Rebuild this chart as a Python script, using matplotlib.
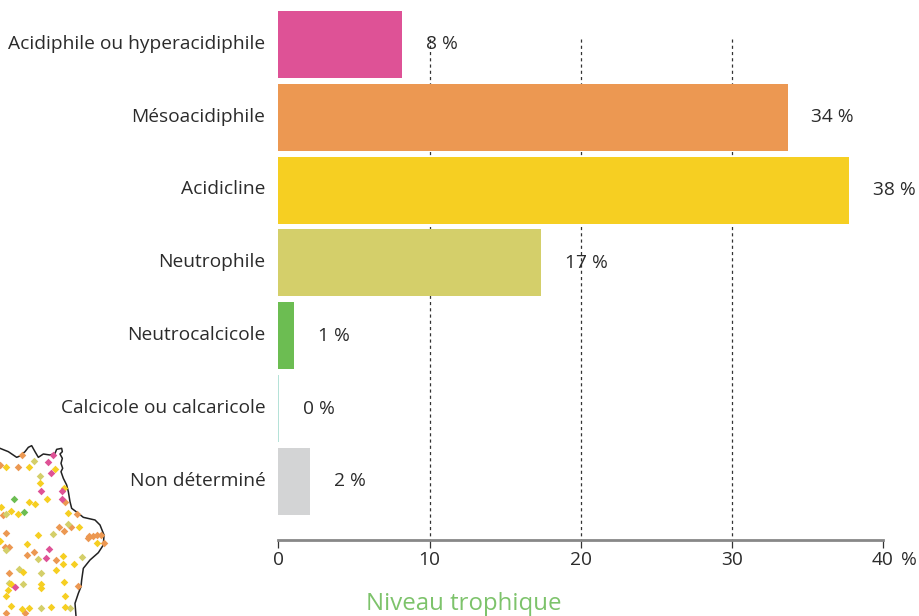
import matplotlib
matplotlib.use('Agg')
import matplotlib.pyplot as plt
from matplotlib.transforms import ScaledTranslation

plt.rcParams['font.family'] = ['Open Sans', 'DejaVu Sans']

categories = ['Acidiphile ou hyperacidiphile', 'Mésoacidiphile', 'Acidicline', 'Neutrophile',
              'Neutrocalcicole', 'Calcicole ou calcaricole', 'Non déterminé']
values = [8.2, 33.7, 37.75, 17.4, 1.05, 0.05, 2.1]
colors = ['#DE5296', '#EC9852', '#F6CF22', '#D4CF6A', '#6CBD52', '#B5E2D8', '#D3D4D5']
x_ticks = [0, 10, 20, 30, 40]

# coastline and stations of the small map in the corner
coast_x = [0, 25, 50, 60, 75, 85, 95, 105, 115, 130, 150, 165, 170, 185, 187, 180, 187, 183, 188, 183,
           190, 200, 205, 210, 215, 235, 250, 285, 300, 312, 310, 295, 270, 250, 245, 243, 235, 225, 228]
coast_y = [55, 65, 82, 78, 65, 52, 47, 65, 82, 72, 75, 70, 58, 55, 65, 72, 85, 100, 115, 125,
           145, 165, 185, 215, 235, 250, 262, 270, 285, 315, 345, 368, 390, 415, 450, 470, 490, 520, 558]
orange_pts = [(65, 75), (53, 111), (230, 252), (10, 255), (176, 291), (191, 302), (213, 292), (19, 309),
              (268, 318), (278, 318), (290, 316), (303, 316), (265, 325), (311, 340), (15, 352), (28, 352),
              (103, 365), (81, 376), (168, 390), (26, 428), (233, 468), (75, 548), (18, 548), (195, 217),
              (0, 104)]
yellow_pts = [(18, 111), (88, 111), (166, 118), (121, 160), (193, 173), (140, 206), (88, 217), (105, 223),
              (32, 243), (53, 252), (2, 232), (205, 250), (236, 292), (113, 316), (290, 339), (82, 343),
              (190, 379), (190, 402), (222, 402), (167, 421), (69, 427), (34, 461), (192, 456), (124, 462),
              (122, 475), (24, 481), (17, 498), (194, 498), (32, 528), (65, 537), (88, 534), (153, 530),
              (196, 532), (0, 332)]
olive_pts = [(102, 94), (121, 139), (18, 252), (203, 281), (159, 313), (18, 360), (113, 388), (247, 380),
             (57, 417), (123, 430), (27, 460), (68, 463), (124, 534), (209, 535)]
pink_pts = [(159, 76), (144, 95), (154, 129), (124, 182), (185, 184), (185, 207), (147, 356), (137, 385),
            (45, 471)]
green_pts = [(41, 208), (71, 245)]

fig = plt.figure(figsize=(9.2, 6.16), dpi=100)

# map
ax_map = fig.add_axes([0, 0, 130 / 920, 186 / 616])
ax_map.plot(coast_x, coast_y, color='#222222', lw=1.1, zorder=1)
for pts, c in [(orange_pts, '#EC9852'), (olive_pts, '#D4CF6A'), (yellow_pts, '#F6CF22'),
               (pink_pts, '#DE5296'), (green_pts, '#6CBD52')]:
    ax_map.scatter([p[0] for p in pts], [p[1] for p in pts], marker='D', s=15, color=c, lw=0, zorder=2)
ax_map.set_xlim(0, 390)
ax_map.set_ylim(558, 0)
ax_map.axis('off')

# bars
ax = fig.add_axes([278.5 / 920, 76 / 616, 604.5 / 920, 540 / 616])
ax.patch.set_alpha(0)
pos = list(range(len(categories)))
ax.vlines(x_ticks[1:-1], -0.076, 6.806, color='#333333', lw=0.9, linestyles=(0, (2.5, 2.5)), zorder=1)
ax.barh(pos, values, height=0.92, color=colors, zorder=2)
for p, v in zip(pos, values):
    ax.annotate('%d %%' % round(v), (v, p), xytext=(17, 0), textcoords='offset points',
                ha='left', va='center', fontsize=13.8, color='#2b2b2b', zorder=3)

ax.set_xlim(0, 40)
ax.set_ylim(6.806, -0.611)
ax.set_yticks(pos)
ax.set_yticklabels(categories)
ax.set_xticks(x_ticks)
ax.tick_params(axis='y', length=0, pad=9.5, labelsize=13.8, labelcolor='#2b2b2b')
ax.tick_params(axis='x', length=6, width=0.9, color='#333333', pad=2, labelsize=13.8, labelcolor='#2b2b2b')
for label in ax.get_yticklabels():
    label.set_transform(label.get_transform() + ScaledTranslation(0, 2 / 72, fig.dpi_scale_trans))
for s in ['top', 'right', 'left']:
    ax.spines[s].set_visible(False)
ax.spines['bottom'].set_color('#888888')
ax.spines['bottom'].set_linewidth(2)
ax.annotate(' %', (40, 6.806), xytext=(9, -14.5), textcoords='offset points', ha='left', va='center',
            fontsize=13.8, color='#2b2b2b')

fig.text(464 / 920, 12 / 616, 'Niveau trophique', ha='center', va='center', fontsize=17.3, color='#7DC36B')

fig.savefig('out.png', dpi=100)
